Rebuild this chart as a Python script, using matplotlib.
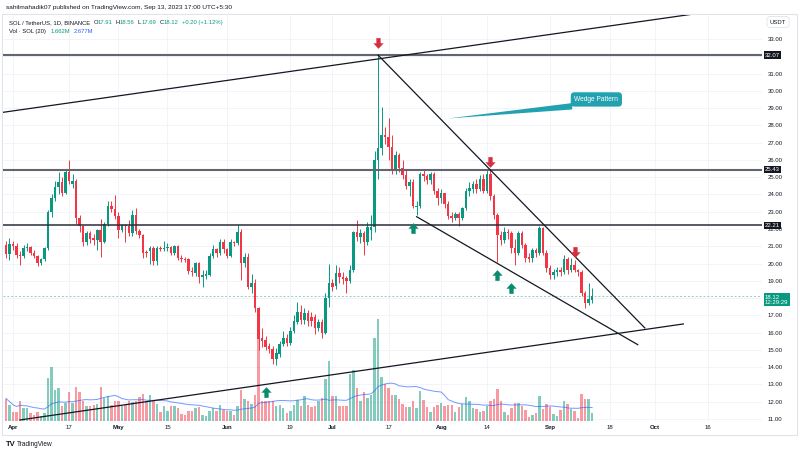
import numpy as np
import pandas as pd
import matplotlib
matplotlib.use("Agg")
import matplotlib.pyplot as plt
import matplotlib.dates as mdates
from matplotlib.path import Path
from matplotlib.patches import Rectangle, Polygon
from matplotlib.transforms import blended_transform_factory

plt.rcParams['font.family'] = ['Liberation Sans', 'DejaVu Sans']

# SOL / TetherUS daily candles (Mar 30 - Sep 13, 2023)
dates = pd.date_range('2023-03-30', '2023-09-13', freq='D')

opens = [
    21.07, 20.55,  # Mar
    21.11, 21.00, 20.49, 20.44, 20.88, 20.94, 20.63, 20.44, 20.01, 20.24,
    20.88, 22.96, 23.77, 24.41, 24.70, 24.06, 25.32, 24.60, 24.80, 22.62,
    22.17, 21.27, 21.79, 21.46, 21.36, 21.94, 21.27, 22.29, 23.33, 23.14,  # Apr
    22.75, 21.94, 22.23, 22.17, 21.75, 22.81, 21.88, 21.65, 20.69, 20.70,
    20.88, 20.15, 20.88, 20.82, 20.88, 20.98, 20.63, 21.03, 20.34, 20.26,
    20.24, 19.59, 19.47, 20.01, 19.24, 19.30, 19.34, 20.43, 20.82, 20.59, 21.26,  # May
    20.82, 20.43, 21.25, 21.20, 21.84, 20.01, 20.40, 18.66, 18.89, 17.40,
    15.67, 15.57, 15.22, 15.03, 14.45, 14.76, 15.34, 15.67, 15.42, 16.11,
    16.63, 17.21, 16.75, 17.15, 16.90, 16.92, 16.29, 16.63, 16.00, 17.98,  # Jun
    18.85, 18.70, 19.43, 19.24, 19.14, 19.00, 19.60, 21.84, 21.52, 21.79,
    21.27, 21.94, 22.13, 25.99, 26.67, 27.44, 27.34, 26.77, 25.42, 26.28,
    25.55, 25.12, 24.49, 24.74, 23.29, 23.35, 25.16, 25.07, 24.84, 25.16, 24.22,  # Jul
    23.77, 24.06, 23.45, 22.75, 22.62, 22.87, 22.62, 23.19, 24.20, 24.30,
    24.58, 24.30, 24.87, 24.22, 25.18, 23.91, 22.81, 21.65, 21.36, 21.84,
    21.75, 20.90, 20.59, 21.75, 21.07, 20.40, 20.30, 20.78, 20.59, 22.04, 20.59,  # Aug
    19.72, 19.33, 19.53, 19.62, 19.53, 20.24, 19.62, 19.91, 19.62, 19.53,
    18.27, 17.73, 17.91,  # Sep
]
highs = [
    21.30, 21.45,
    21.30, 21.20, 20.70, 21.10, 21.20, 21.00, 20.80, 20.50, 20.30, 20.95,
    23.10, 24.00, 24.80, 25.30, 25.00, 25.40, 25.99, 25.20, 24.90, 22.80,
    22.20, 21.90, 21.90, 21.70, 22.00, 22.60, 22.40, 23.60, 23.60, 23.97,
    23.00, 22.30, 22.30, 22.50, 23.10, 23.20, 22.00, 21.70, 20.80, 21.00,
    21.00, 21.00, 21.00, 21.30, 21.20, 21.00, 21.10, 21.10, 20.50, 20.40,
    20.30, 19.80, 20.10, 20.10, 19.60, 19.60, 20.60, 21.10, 20.90, 21.40, 21.40,
    20.90, 21.40, 21.30, 22.23, 22.00, 20.60, 20.60, 19.40, 19.10, 17.50,
    16.25, 15.80, 15.40, 15.20, 15.10, 15.50, 16.10, 15.90, 16.30, 17.00,
    17.79, 17.60, 17.40, 17.30, 17.20, 17.10, 16.80, 16.80, 18.30, 20.00,
    19.10, 19.90, 19.80, 19.50, 19.30, 19.90, 21.90, 22.52, 22.00, 21.90,
    22.40, 22.81, 26.50, 32.07, 29.08, 27.90, 28.40, 27.44, 26.50, 26.40,
    25.99, 25.42, 24.90, 24.90, 23.60, 25.30, 25.40, 25.20, 25.30, 25.30, 24.40,
    24.30, 24.10, 23.60, 23.00, 23.00, 23.00, 23.30, 24.40, 24.70, 24.80,
    24.90, 25.10, 25.20, 25.43, 25.43, 24.00, 22.90, 21.90, 22.10, 22.00,
    21.90, 21.40, 21.90, 21.90, 21.20, 20.60, 20.90, 20.90, 22.20, 22.10, 20.80,
    19.90, 19.70, 19.80, 19.80, 20.50, 20.40, 20.30, 20.20, 19.70, 19.60,
    18.40, 18.90, 18.56,
]
lows = [
    20.30, 20.20,
    20.80, 20.30, 19.90, 20.30, 20.70, 20.50, 20.30, 19.85, 19.90, 20.15,
    20.80, 22.70, 23.60, 24.00, 23.90, 24.00, 24.60, 24.40, 22.30, 21.80,
    21.00, 21.10, 21.20, 21.10, 20.80, 20.40, 21.20, 22.20, 23.00, 22.60,
    21.50, 21.80, 21.27, 21.60, 21.60, 21.70, 21.50, 20.30, 20.40, 20.00,
    19.90, 19.90, 20.70, 20.70, 20.70, 20.50, 20.50, 20.20, 20.10, 20.10,
    19.40, 19.30, 19.30, 18.90, 18.66, 19.10, 19.30, 20.30, 20.40, 20.50, 20.60,
    20.30, 20.40, 21.00, 21.10, 19.05, 19.80, 18.50, 18.30, 17.20, 15.00,
    15.18, 15.00, 14.80, 14.20, 14.10, 14.60, 15.20, 15.20, 15.30, 16.00,
    16.50, 16.50, 16.50, 16.40, 16.40, 15.90, 16.10, 15.67, 15.90, 17.50,
    18.40, 18.50, 18.90, 18.80, 18.31, 18.90, 19.50, 21.30, 21.20, 20.50,
    21.10, 21.36, 21.80, 24.90, 26.30, 26.90, 26.00, 25.20, 25.20, 25.30,
    24.90, 24.30, 23.90, 23.20, 22.81, 23.20, 24.80, 24.60, 24.60, 24.00, 23.40,
    23.50, 23.20, 22.60, 22.40, 22.50, 22.20, 22.50, 23.10, 23.90, 24.10,
    24.10, 24.20, 24.10, 24.10, 23.70, 22.60, 20.11, 21.10, 21.20, 21.40,
    20.60, 19.90, 20.50, 20.90, 20.10, 20.10, 20.10, 20.40, 20.50, 20.50, 19.50,
    19.10, 19.10, 19.30, 19.30, 19.40, 19.40, 19.50, 19.50, 19.30, 18.10,
    17.40, 17.60, 17.69,
]
closes = [
    20.55, 21.11,
    21.00, 20.49, 20.44, 20.88, 20.94, 20.63, 20.44, 20.01, 20.24, 20.88,
    22.96, 23.77, 24.41, 24.70, 24.06, 25.32, 24.80, 24.80, 22.62, 22.17,
    21.27, 21.79, 21.40, 21.36, 21.94, 21.27, 22.29, 23.33, 23.14, 22.75,
    21.94, 22.23, 22.17, 21.75, 22.81, 21.88, 21.65, 20.63, 20.60, 20.88,
    20.15, 20.88, 20.82, 20.88, 20.98, 20.63, 21.03, 20.34, 20.26, 20.20,
    19.59, 19.53, 20.01, 19.24, 19.34, 19.38, 20.43, 20.82, 20.59, 21.26, 20.82,
    20.43, 21.26, 21.17, 21.84, 20.01, 20.40, 18.66, 18.89, 17.40, 15.61,
    15.53, 15.18, 15.03, 14.45, 14.80, 15.34, 15.67, 15.38, 16.11, 16.67,
    17.21, 16.75, 17.15, 16.65, 16.65, 16.25, 16.63, 16.00, 17.98, 18.85,
    18.66, 19.47, 19.24, 19.08, 19.00, 19.60, 21.84, 21.52, 21.79, 21.27,
    22.09, 22.13, 25.99, 26.67, 27.44, 27.34, 26.77, 25.42, 26.28, 25.55,
    25.12, 24.49, 24.74, 23.33, 23.35, 25.16, 25.07, 24.84, 25.16, 24.22, 23.77,
    24.06, 23.45, 22.75, 22.62, 22.87, 22.62, 23.19, 24.20, 24.35, 24.58,
    24.30, 24.87, 24.22, 25.18, 23.91, 22.81, 21.65, 21.36, 21.84, 21.75,
    20.90, 20.59, 21.75, 21.07, 20.30, 20.24, 20.78, 20.59, 22.04, 20.59, 19.72,
    19.33, 19.53, 19.62, 19.53, 20.24, 19.62, 19.91, 19.62, 19.53, 18.27,
    17.73, 17.92, 18.12,
]
# volume in millions of SOL
volume = [
    4.5, 3.3,
    1.9, 1.9, 4.1, 2.7, 2.7, 1.7, 1.3, 1.9, 1.0, 1.7,
    8.7, 10.8, 6.3, 6.7, 3.0, 3.7, 5.8, 3.7, 6.9, 5.9,
    4.1, 3.0, 3.0, 3.3, 3.5, 6.8, 4.7, 5.0, 3.3, 4.1,
    4.0, 3.0, 3.3, 4.0, 3.9, 4.0, 4.8, 5.5, 4.0, 5.3,
    4.0, 3.5, 1.9, 3.0, 2.1, 3.0, 3.0, 2.7, 1.5, 1.2,
    2.0, 2.0, 2.7, 2.8, 1.3, 1.0, 2.0, 2.7, 2.1, 3.3, 2.3,
    2.0, 2.1, 1.2, 3.0, 6.3, 4.5, 4.0, 3.5, 5.3, 17.0,
    4.1, 4.1, 4.1, 4.0, 3.1, 3.3, 2.7, 1.7, 2.0, 3.3,
    4.3, 3.0, 5.0, 3.3, 2.8, 3.0, 4.1, 4.7, 8.4, 12.0,
    5.0, 5.0, 3.1, 3.1, 3.1, 9.5, 10.2, 6.7, 4.0, 5.9,
    4.7, 5.3, 16.6, 20.4, 8.8, 7.5, 6.7, 5.3, 5.3, 4.5,
    3.5, 2.8, 2.8, 4.1, 2.7, 6.1, 4.3, 2.8, 1.9, 2.8, 3.3,
    3.7, 3.1, 3.3, 3.3, 1.9, 2.8, 3.5, 4.8, 4.0, 2.7,
    2.5, 1.9, 2.1, 3.1, 4.0, 4.5, 6.5, 4.0, 1.9, 1.2,
    2.7, 3.7, 3.7, 3.0, 2.3, 0.8, 1.2, 1.7, 5.0, 2.5, 3.5,
    2.8, 1.5, 1.1, 2.3, 4.1, 3.5, 2.5, 2.0, 0.7, 5.4,
    4.48, 4.5, 1.662,
]

# drawn levels and trend lines (date, price)
levels = [32.07, 25.43, 22.21]
channel_top = (['2023-03-29', '2023-10-12'], [28.75, 34.45])
channel_bottom = (['2023-04-03', '2023-10-09'], [10.94, 16.50])
wedge_top = (['2023-07-14', '2023-09-28'], [32.07, 16.27])
wedge_bottom = (['2023-07-25', '2023-09-26'], [22.71, 15.30])

red_arrow_dates = ['2023-07-14', '2023-08-15', '2023-09-08']
red_arrow_prices = [32.75, 25.85, 20.65]
green_arrow_dates = ['2023-06-12', '2023-07-24', '2023-08-17', '2023-08-21']
green_arrow_prices = [12.55, 22.05, 19.35, 18.60]

tick_dates = ['2023-04-01', '2023-04-17', '2023-05-01', '2023-05-15', '2023-06-01',
              '2023-06-19', '2023-07-01', '2023-07-17', '2023-08-01', '2023-08-14',
              '2023-09-01', '2023-09-18', '2023-10-01', '2023-10-16']
tick_labels = ['Apr', '17', 'May', '15', 'Jun', '19', 'Jul', '17', 'Aug', '14',
               'Sep', '18', 'Oct', '16']
months = ['Apr', 'May', 'Jun', 'Jul', 'Aug', 'Sep', 'Oct']
price_ticks = np.arange(11, 34)

GREEN = '#089981'
RED = '#f23645'
TXT = '#131722'
GRID = '#f0f3fa'

W, H = 800, 453


def fx(x):
    return x / W


def fy(y):
    return 1 - y / H


def dn(s):
    return mdates.date2num(pd.Timestamp(s))


xs = mdates.date2num(dates)
o = np.array(opens)
h = np.array(highs)
l = np.array(lows)
c = np.array(closes)
v = np.array(volume)
up = c >= o
cols = np.where(up, GREEN, RED)
vol_ma = pd.Series(v).rolling(20, min_periods=1).mean()

fig = plt.figure(figsize=(W / 100, H / 100), dpi=100)
rect = [fx(3), fy(421), 759 / W, 406 / H]
ax_vol = fig.add_axes(rect, zorder=1)
ax = fig.add_axes(rect, zorder=2)
ax.patch.set_alpha(0)

ref = dn('2023-04-01')
for a in (ax, ax_vol):
    a.set_xlim(ref - 2.85, ref + 213.4)
    for s in a.spines.values():
        s.set_visible(False)
ax.set_ylim(10.88, 34.39)
ax_vol.set_ylim(0, 406 / 5.0)
ax_vol.set_xticks([])
ax_vol.set_yticks([])

# grid (below volume)
tr_grid = blended_transform_factory(ax_vol.transAxes, ax.transData)
for p in price_ticks:
    ax_vol.plot([0, 1], [p, p], transform=tr_grid, color=GRID, lw=0.6, zorder=0)
for t in tick_dates:
    ax_vol.axvline(dn(t), color=GRID, lw=0.6, zorder=0)

# volume + MA
ax_vol.bar(xs, v, width=0.7, color=cols, alpha=0.5, linewidth=0, zorder=2)
ax_vol.plot(xs, vol_ma, color='#2962ff', alpha=0.65, lw=0.7, zorder=3)

# candles
ax.vlines(xs, l, h, colors=cols, lw=0.7, zorder=3)
body_b = np.minimum(o, c)
body_h = np.maximum(np.abs(c - o), 0.04)
ax.bar(xs, body_h, bottom=body_b, width=0.72, color=cols, linewidth=0, zorder=4)

# current price line
ax.axhline(closes[-1], color=GREEN, alpha=0.45, lw=0.7, ls=(0, (2, 2)), zorder=2)

# horizontal levels
ax.axhline(levels[0], color='#62656f', lw=1.5, zorder=5)
ax.axhline(levels[1], color='#62656f', lw=1.5, zorder=5)
ax.axhline(levels[2], color='#2a2e39', lw=1.1, zorder=5)

for ln in (channel_top, channel_bottom, wedge_top, wedge_bottom):
    ax.plot([dn(d) for d in ln[0]], ln[1], color=TXT, lw=0.9, zorder=5)

# block arrows
down_path = Path([(-0.2, 0.5), (0.2, 0.5), (0.2, 0.02), (0.48, 0.02), (0, -0.5),
                  (-0.48, 0.02), (-0.2, 0.02), (-0.2, 0.5)])
up_path = Path([(x, -y) for x, y in down_path.vertices])
ax.plot([dn(d) for d in red_arrow_dates], red_arrow_prices, ls='none',
        marker=down_path, ms=7.7, color='#d32f3f', mec='none', zorder=6)
ax.plot([dn(d) for d in green_arrow_dates], green_arrow_prices, ls='none',
        marker=up_path, ms=7.7, color='#0a8b6f', mec='none', zorder=6)

# wedge pattern callout
TEAL = '#22a1b1'
ax.add_patch(Polygon([(dn('2023-08-03'), 28.40), (dn('2023-09-07 08:00'), 29.29),
                      (dn('2023-09-07 08:00'), 28.92)], closed=True,
                     fc=TEAL, ec='none', zorder=6))
ax.text(dn('2023-09-14 05:00'), 29.50, 'Wedge Pattern', ha='center', va='center',
        fontsize=4.8, color='white', zorder=7,
        bbox=dict(boxstyle='round,pad=0.55', fc=TEAL, ec='none'))

# axes ticks; labels hidden under the level boxes are left out
hidden = [32, 18]
ax.yaxis.tick_right()
ax.set_yticks(price_ticks)
ax.set_yticklabels(['' if p in hidden else f'{p:.2f}' for p in price_ticks])
ax.tick_params(axis='y', length=0, pad=4, labelsize=4.3, labelcolor=TXT)
ax.set_xticks([dn(t) for t in tick_dates])
ax.set_xticklabels(tick_labels)
ax.tick_params(axis='x', length=0, pad=3, labelsize=4.3, labelcolor=TXT)
for lbl in ax.get_xticklabels():
    if lbl.get_text() in months:
        lbl.set_fontweight('bold')

# price labels on the axis
tr_r = blended_transform_factory(ax.transAxes, ax.transData)
for p in levels:
    ax.text(1.004, p, f'{p:.2f}', transform=tr_r, ha='left', va='center',
            fontsize=4.3, color='white', clip_on=False, zorder=10,
            bbox=dict(boxstyle='square,pad=0.2', fc=TXT, ec='none'))
ax.text(1.004, 17.90, f'{closes[-1]:.2f}\n12:29:29', transform=tr_r, ha='left',
        va='center', fontsize=4.3, color='white', clip_on=False, zorder=10,
        linespacing=1.1, bbox=dict(boxstyle='square,pad=0.25', fc=GREEN, ec='none'))

# frame and header texts
fig.add_artist(Rectangle((fx(2), fy(435)), 795 / W, 421 / H, transform=fig.transFigure,
                         fill=False, ec='#e0e3eb', lw=0.8))
fig.text(fx(778), fy(22), 'USDT', ha='center', va='center', fontsize=4.2, color=TXT,
         bbox=dict(boxstyle='round,pad=0.5', fc='white', ec='#e0e3eb', lw=0.6))

fig.text(fx(6), fy(7.5), 'sahilmahadik07 published on TradingView.com, Sep 13, 2023 17:00 UTC+5:30',
         fontsize=4.65, color=TXT, va='center')

fs = 4.2
y1 = fy(22.5)
fig.text(fx(9), y1, 'SOL / TetherUS, 1D, BINANCE', fontsize=fs, color=TXT, va='center')
ohlc = [('O', opens[-1], 94), ('H', highs[-1], 116), ('L', lows[-1], 138), ('C', closes[-1], 160)]
for k, val, x0 in ohlc:
    fig.text(fx(x0), y1, k, fontsize=fs, color=TXT, va='center')
    fig.text(fx(x0 + 4), y1, f'{val:.2f}', fontsize=fs, color=GREEN, va='center')
chg = closes[-1] - closes[-2]
fig.text(fx(182), y1, f'+{chg:.2f} (+{chg / closes[-2] * 100:.2f}%)', fontsize=fs,
         color=GREEN, va='center')
y2 = fy(31.3)
fig.text(fx(9), y2, 'Vol \u00b7 SOL (20)', fontsize=fs, color=TXT, va='center')
fig.text(fx(51), y2, f'{volume[-1]:.3f}M', fontsize=fs, color=GREEN, va='center')
fig.text(fx(74), y2, f'{vol_ma.iloc[-1]:.3f}M', fontsize=fs, color='#2962ff', va='center')

# footer
fig.text(fx(6), fy(444.5), 'TV', fontsize=5.5, fontweight='bold', color=TXT, va='center')
fig.text(fx(17), fy(444.5), 'TradingView', fontsize=4.7, color=TXT, va='center')

fig.savefig('out.png', dpi=100)
